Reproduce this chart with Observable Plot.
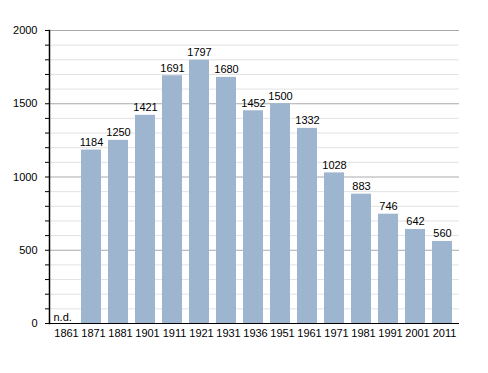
<!DOCTYPE html>
<html><head><meta charset="utf-8">
<script src="https://cdn.jsdelivr.net/npm/d3@7"></script>
<script src="https://cdn.jsdelivr.net/npm/@observablehq/plot@0.6"></script>
<style>body{margin:0;background:#fff}</style>
</head><body><div id="chart"></div>
<script>
const years = ["1861","1871","1881","1901","1911","1921","1931","1936","1951","1961","1971","1981","1991","2001","2011"];
const values = [null,1184,1250,1421,1691,1797,1680,1452,1500,1332,1028,883,746,642,560];
const yMajor = [0,500,1000,1500,2000];
const yMinor = d3.range(0,2001,100);
const data = years.map((y,i)=>({year:y, value:values[i]}));
const bars = data.filter(d=>d.value!=null);
const font = "Liberation Sans, Arial, sans-serif";
const chart = Plot.plot({
  width: 488, height: 373,
  marginLeft: 49, marginRight: 30, marginTop: 30, marginBottom: 50,
  style: {fontFamily: font, fontSize: "11px", color: "#000", background: "#fff"},
  x: {domain: years, paddingInner: 0.255, paddingOuter: 0, label: null},
  y: {domain: [0,2000], label: null},
  marks: [
    Plot.ruleY(yMinor.filter(v=>v%500!==0), {stroke:"#e2e2e2", strokeWidth:1, insetRight:-1}),
    Plot.ruleY(yMajor, {stroke:"#aaa", strokeWidth:1, insetRight:-1}),
    Plot.barY(bars, {x:"year", y:"value", fill:"#9db5cf"}),
    Plot.text(bars, {x:"year", y:"value", text: d=>String(d.value), lineAnchor:"bottom", dy:-4, fontSize:11, fill:"#000"}),
    Plot.text(data.filter(d=>d.value==null), {x:"year", y:0, text:()=>"n.d.", textAnchor:"start", lineAnchor:"bottom", dx:-11, dy:-3, fontSize:11, fill:"#000"}),
    Plot.axisY({ticks: yMinor, tickSize: 4, tickFormat: ()=>"", label:null}),
    Plot.axisY({ticks: yMajor, tickSize: 0, tickPadding: 12, tickFormat: d3.format("d"), fontSize:11, label:null}),
    Plot.axisX({tickSize: 0, tickPadding: 6, dx: 2, fontSize: 11, label:null}),
    Plot.ruleY([0], {stroke:"#000", strokeWidth:1.2, insetLeft:-4, insetRight:-1}),
    Plot.frame({anchor:"left", stroke:"#000", strokeWidth:1.5})
  ]
});
document.getElementById("chart").appendChild(chart);
</script>
</body></html>
